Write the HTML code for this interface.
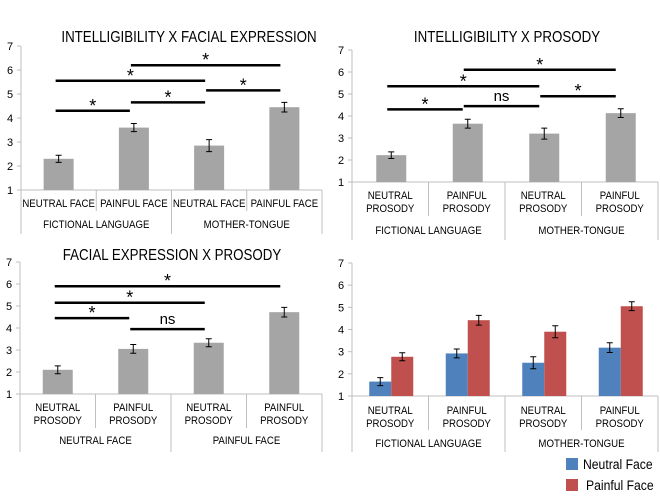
<!DOCTYPE html>
<html><head><meta charset="utf-8">
<style>
html,body{margin:0;padding:0;background:#fff;}
svg{display:block;font-family:"Liberation Sans",sans-serif;}
</style></head>
<body>
<svg id="c" width="660" height="496" viewBox="0 0 660 496" xmlns="http://www.w3.org/2000/svg"></svg>
<script>
const NS="http://www.w3.org/2000/svg";
const svg=document.getElementById('c');
// ---- data ----
const yTicks=[1,2,3,4,5,6,7];
const p1Cats=["NEUTRAL FACE","PAINFUL FACE","NEUTRAL FACE","PAINFUL FACE"];
const p1Groups=["FICTIONAL LANGUAGE","MOTHER-TONGUE"];
const p1Values=[2.3,3.6,2.85,4.45];
const p1Errors=[0.15,0.17,0.25,0.2];
const p2Cats=[["NEUTRAL","PROSODY"],["PAINFUL","PROSODY"],["NEUTRAL","PROSODY"],["PAINFUL","PROSODY"]];
const p2Groups=["FICTIONAL LANGUAGE","MOTHER-TONGUE"];
const p2Values=[2.22,3.65,3.2,4.13];
const p2Errors=[0.15,0.2,0.25,0.2];
const p3Groups=["NEUTRAL FACE","PAINFUL FACE"];
const p3Values=[2.1,3.05,3.33,4.72];
const p3Errors=[0.18,0.2,0.18,0.22];
const p4Neutral=[1.65,2.92,2.5,3.18];
const p4NeutralErr=[0.18,0.2,0.27,0.22];
const p4Painful=[2.77,4.42,3.9,5.05];
const p4PainfulErr=[0.18,0.22,0.27,0.2];
// significance brackets: [fromCat, toCat, level, label]
const p1Sig=[[0,1,4.3,"*"],[1,2,4.65,"*"],[0,2,5.55,"*"],[2,3,5.15,"*"],[1,3,6.2,"*"]];
const p2Sig=[[0,1,4.3,"*"],[1,2,4.45,"ns"],[0,2,5.35,"*"],[2,3,4.9,"*"],[1,3,6.1,"*"]];
const p3Sig=[[0,1,4.45,"*"],[1,2,3.95,"ns"],[0,2,5.15,"*"],[0,3,5.9,"*"]];

const SX=0.84;
function el(tag,attrs,parent){const e=document.createElementNS(NS,tag);for(const k in attrs)e.setAttribute(k,attrs[k]);(parent||svg).appendChild(e);return e;}
function txt(s,x,y,size,parent,anchor,sx){const k=sx||SX;const t=el('text',{x:x/k,y:y,'font-size':size,'text-anchor':anchor||'middle',fill:'#000',transform:`scale(${k},1)`},parent);t.textContent=s;return t;}

function panel(cfg){
  const g=el('g',{});
  
  
  const y=v=>cfg.y1-(v-1)*(cfg.y1-cfg.y7)/6;
  const cw=(cfg.x1-cfg.x0)/4;
  const cx=i=>cfg.x0+cw*(i+0.5);
  if(cfg.title){const t=txt(cfg.title,cfg.tx,cfg.ty,15.5,g,'middle',0.86);}
  const ax=el('line',{x1:cfg.x0,y1:cfg.y7,x2:cfg.x0,y2:cfg.y1,stroke:'#bfbfbf'},g);
  
  yTicks.forEach(v=>{
    el('line',{x1:cfg.x0-4,y1:y(v),x2:cfg.x0,y2:y(v),stroke:'#bfbfbf'},g);
    const t=txt(String(v),cfg.x0-11,y(v)+4,11,g,'middle',1);
    
  });
  const xa=el('line',{x1:cfg.x0,y1:cfg.y1,x2:cfg.x1,y2:cfg.y1,stroke:'#bfbfbf'},g);
  
  for(let i=0;i<=4;i++){
    const outer=(i%2===0);
    el('line',{x1:cfg.x0+cw*i,y1:cfg.y1,x2:cfg.x0+cw*i,y2:cfg.y1+(outer?cfg.outerLen:cfg.innerLen),stroke:'#bfbfbf'},g);
  }
  cfg.cats.forEach((c,i)=>{
    const lines=Array.isArray(c)?c:[c];
    lines.forEach((s,j)=>{const t=txt(s,cx(i),cfg.labY+j*13,11.5,g);});
  });
  cfg.groups.forEach((s,i)=>{const t=txt(s,cfg.x0+cw*(2*i+1),cfg.grpY,11.5,g);});
  cfg.series.forEach(s=>{
    s.vals.forEach((v,i)=>{
      const bx=cx(i)+s.off;
      const r=el('rect',{x:bx,y:y(v),width:s.w,height:cfg.y1-y(v),fill:s.color},g);
      
      const m=bx+s.w/2,e=s.err[i];
      const eb=el('path',{d:`M${m},${y(v+e)}V${y(v-e)}M${m-3},${y(v+e)}H${m+3}M${m-3},${y(v-e)}H${m+3}`,stroke:'#000','stroke-width':1,fill:'none'},g);
      
    });
  });
  (cfg.sig||[]).forEach(s=>{
    const L=cx(s[0])-3, R=cx(s[1])-4;
    const ln=el('line',{x1:L,y1:y(s[2]),x2:R,y2:y(s[2]),stroke:'#000','stroke-width':2.5},g);
    
    const isStar=s[3]==='*';
    const t=txt(s[3],(L+R)/2,y(s[2])-(isStar?-1:5),isStar?18:15,g,'middle',1);
    
  });
}

panel({name:'intelligibility-x-facial-expression-chart',title:'INTELLIGIBILITY  X FACIAL EXPRESSION',tx:189,ty:42,
  x0:21,x1:322,y7:46,y1:190,innerLen:21,outerLen:44,labY:207,grpY:228,cats:p1Cats,groups:p1Groups,
  series:[{vals:p1Values,err:p1Errors,off:-15,w:30,color:'#a5a5a5'}],sig:p1Sig});
panel({name:'intelligibility-x-prosody-chart',title:'INTELLIGIBILITY  X PROSODY',tx:507,ty:42,
  x0:352,x1:658,y7:50,y1:182,innerLen:34,outerLen:58,labY:199,grpY:234,cats:p2Cats,groups:p2Groups,
  series:[{vals:p2Values,err:p2Errors,off:-14,w:30,color:'#a5a5a5'}],sig:p2Sig});
panel({name:'facial-expression-x-prosody-chart',title:'FACIAL EXPRESSION X PROSODY',tx:172,ty:260,
  x0:20,x1:322,y7:262,y1:394,innerLen:34,outerLen:58,labY:411,grpY:444,cats:p2Cats,groups:p3Groups,
  series:[{vals:p3Values,err:p3Errors,off:-15,w:30,color:'#a5a5a5'}],sig:p3Sig});
panel({name:'grouped-bar-chart',title:null,
  x0:352,x1:658,y7:263,y1:396,innerLen:34,outerLen:56,labY:414,grpY:447,cats:p2Cats,groups:p2Groups,
  series:[{vals:p4Neutral,err:p4NeutralErr,off:-21,w:22,color:'#4f81bd'},{vals:p4Painful,err:p4PainfulErr,off:1,w:22,color:'#c0504d'}]});

const lg=el('g',{});


const l1=el('rect',{x:566,y:458,width:12,height:12,fill:'#4f81bd'},lg);


const t1=txt('Neutral Face',583,469,14,lg,'start',0.87);


const l2=el('rect',{x:566,y:479,width:12,height:12,fill:'#c0504d'},lg);


const t2=txt('Painful Face',586,490,14,lg,'start',0.87);


</script>
</body></html>
